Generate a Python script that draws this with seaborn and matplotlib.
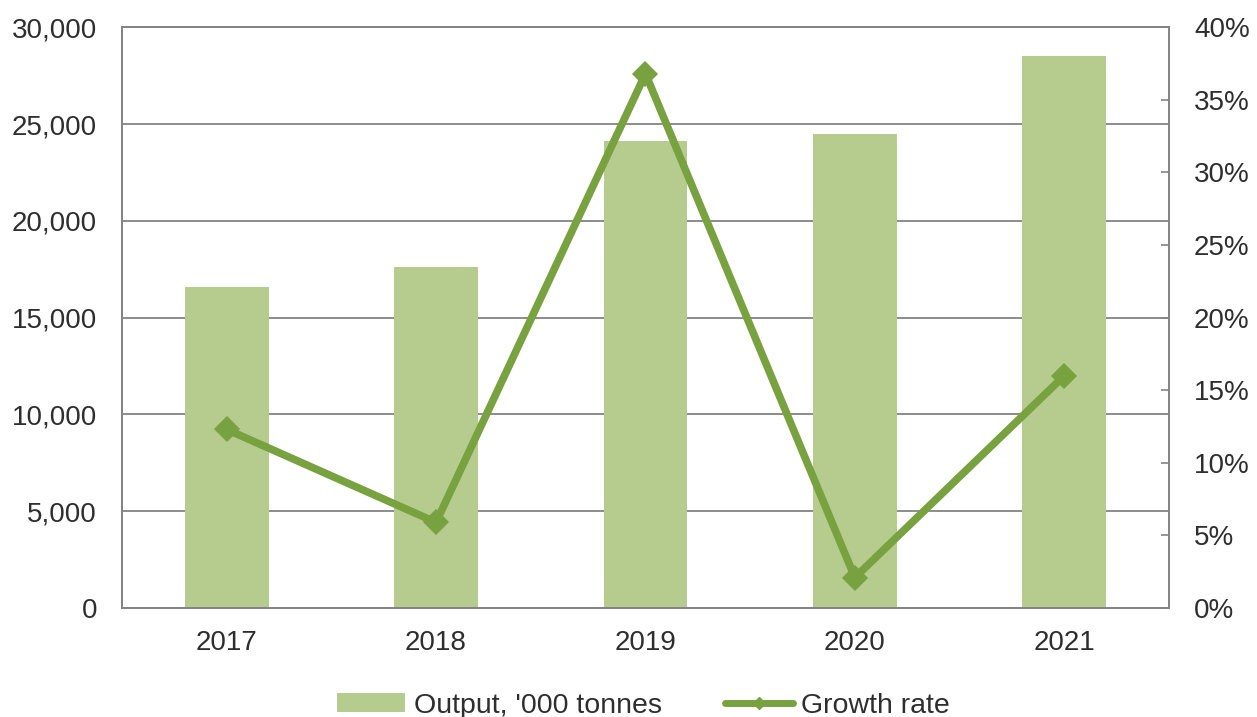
import matplotlib
matplotlib.use("Agg")
import matplotlib.pyplot as plt
from matplotlib.ticker import FuncFormatter, MultipleLocator
from matplotlib.patches import Patch
from matplotlib.lines import Line2D
from matplotlib import font_manager
import seaborn as sns
import pandas as pd

years = ["2017", "2018", "2019", "2020", "2021"]
output_kt = [16600, 17600, 24100, 24500, 28500]
growth_pct = [12.3, 5.9, 36.8, 2.1, 16.0]

bar_color = "#b5cc8e"
line_color = "#78a13f"
grid_color = "#848484"
text_color = "#2e2e2e"

sns.set_theme(style="white")
plt.rcParams["font.family"] = ["Liberation Sans", "DejaVu Sans"]

installed = {f.name for f in font_manager.fontManager.ttflist}
legend_family = "Liberation Sans Narrow" if "Liberation Sans Narrow" in installed else "Liberation Sans"
legend_size = 24 if legend_family == "Liberation Sans Narrow" else 20.5

df = pd.DataFrame({"year": years, "output": output_kt, "growth": growth_pct})

fig = plt.figure(figsize=(12.57, 7.17), dpi=100)
ax = fig.add_axes([0.097, 0.152, 0.833, 0.810])

sns.barplot(data=df, x="year", y="output", color=bar_color, width=0.4,
            saturation=1, linewidth=0, ax=ax, zorder=2)
ax.set_ylim(0, 30000)
ax.set_xlim(-0.5, 4.5)
ax.yaxis.set_major_locator(MultipleLocator(5000))
ax.yaxis.set_major_formatter(FuncFormatter(lambda v, _: f"{int(v):,}"))
ax.grid(axis="y", color=grid_color, linewidth=1.3, zorder=0)
ax.set_axisbelow(True)
ax.set_xlabel("")
ax.set_ylabel("")
ax.tick_params(axis="y", length=0, pad=18, labelsize=20, labelcolor=text_color)
ax.tick_params(axis="x", length=0, pad=16, labelsize=20, labelcolor=text_color)

ax2 = ax.twinx()
sns.pointplot(data=df, x="year", y="growth", color=line_color, markers="D",
              linestyles="-", ax=ax2, markersize=9, linewidth=5.5)
ax2.set_ylim(0, 40)
ax2.set_xlim(-0.5, 4.5)
ax2.yaxis.set_major_locator(MultipleLocator(5))
ax2.yaxis.set_major_formatter(FuncFormatter(lambda v, _: f"{int(v)}%"))
ax2.set_ylabel("")
ax2.tick_params(axis="y", direction="in", length=6, width=1.2, color=grid_color,
                pad=18, labelsize=20, labelcolor=text_color)
ax2.grid(False)

for a in (ax, ax2):
    for side in ("left", "right", "bottom", "top"):
        a.spines[side].set_color(grid_color)
        a.spines[side].set_linewidth(1.3)
    a.spines["top"].set_visible(True)

handles = [
    Patch(facecolor=bar_color, edgecolor="none", label="Output, '000 tonnes"),
    Line2D([], [], color=line_color, linewidth=5, marker="D", markersize=6,
           label="Growth rate"),
]
fig.legend(handles=handles, loc="center", bbox_to_anchor=(0.512, 0.016), ncol=2,
           frameon=False, handlelength=2.4, handleheight=0.6,
           columnspacing=2.2, handletextpad=0.3, labelcolor=text_color,
           prop={"family": legend_family, "size": legend_size})

fig.savefig("out.png", dpi=100)
